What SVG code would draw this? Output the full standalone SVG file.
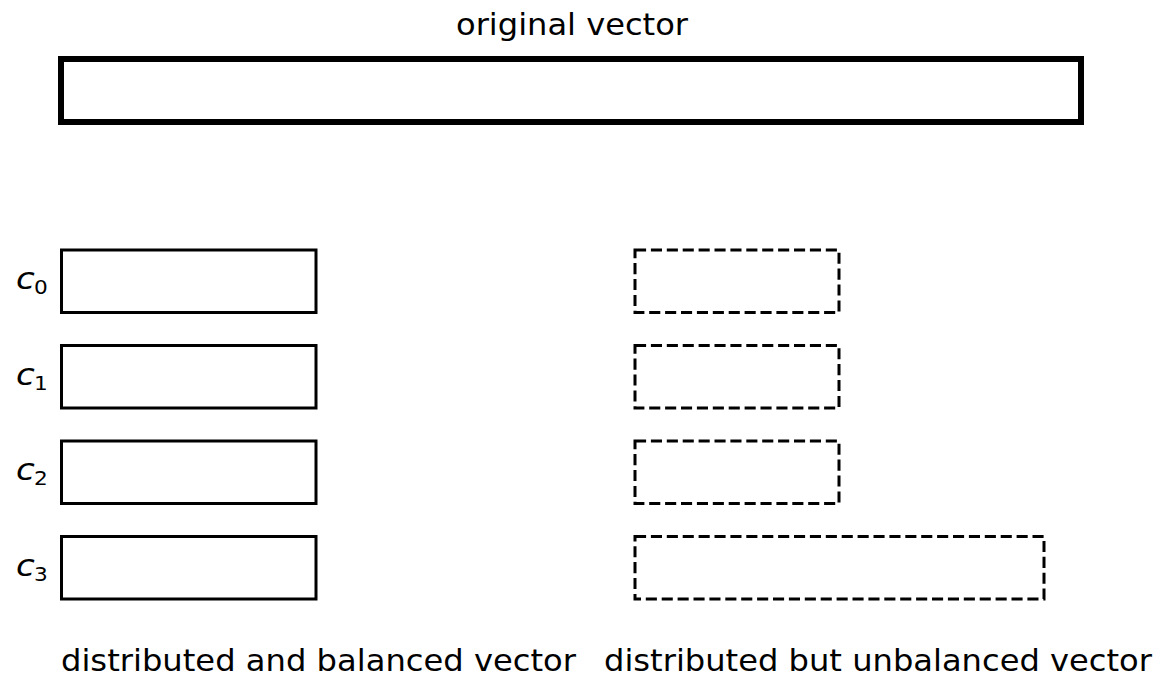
<svg xmlns="http://www.w3.org/2000/svg" width="1155" height="676" viewBox="0 0 1155 676">
<style>
text{font-family:"DejaVu Sans",sans-serif;fill:#000}
.t{font-size:30px}
.solid{fill:none;stroke:#000;stroke-width:3}
.dash{fill:none;stroke:#000;stroke-width:3;stroke-dasharray:11.1 4.8}
.c{font-size:30px;font-style:italic}
.s{font-size:19px}
</style>
<rect width="1155" height="676" fill="#fff"/>
<g id="original">
<text class="t" x="456" y="35" textLength="232" lengthAdjust="spacingAndGlyphs">original vector</text>
<rect x="61" y="59" width="1020" height="63" fill="none" stroke="#000" stroke-width="6"/>
</g>
<g id="balanced">
<rect class="solid" x="61.5" y="250" width="254.5" height="62.5"/>
<rect class="solid" x="61.5" y="345.5" width="254.5" height="62.5"/>
<rect class="solid" x="61.5" y="441" width="254.5" height="62.5"/>
<rect class="solid" x="61.5" y="536.5" width="254.5" height="62.5"/>
<text class="c" transform="translate(16,289) scale(1.14,1)">c</text>
<text class="s" transform="translate(34,294) scale(1.14,1)">0</text>
<text class="c" transform="translate(16,384.5) scale(1.14,1)">c</text>
<text class="s" transform="translate(34,389.5) scale(1.14,1)">1</text>
<text class="c" transform="translate(16,480) scale(1.14,1)">c</text>
<text class="s" transform="translate(34,485) scale(1.14,1)">2</text>
<text class="c" transform="translate(16,575.5) scale(1.14,1)">c</text>
<text class="s" transform="translate(34,580.5) scale(1.14,1)">3</text>
<text class="t" x="61" y="671" textLength="515" lengthAdjust="spacingAndGlyphs">distributed and balanced vector</text>
</g>
<g id="unbalanced">
<rect class="dash" x="635" y="250" width="204" height="62.5"/>
<rect class="dash" x="635" y="345.5" width="204" height="62.5"/>
<rect class="dash" x="635" y="441" width="204" height="62.5"/>
<rect class="dash" x="635" y="536.5" width="409" height="62.5"/>
<text class="t" x="604" y="671" textLength="548" lengthAdjust="spacingAndGlyphs">distributed but unbalanced vector</text>
</g>
<g id="connectors"/>
</svg>
